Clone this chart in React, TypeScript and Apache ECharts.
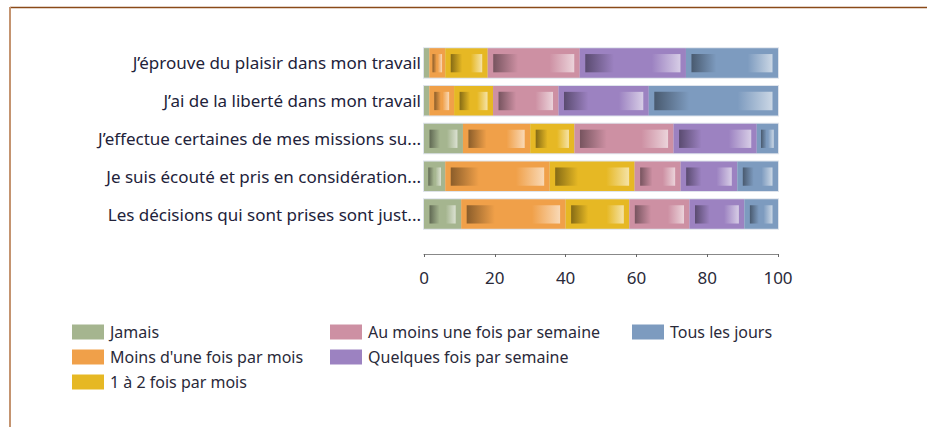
import React, { useEffect, useRef } from "react";
import * as echarts from "echarts";

const categories = [
  "J’éprouve du plaisir dans mon travail",
  "J’ai de la liberté dans mon travail",
  "J’effectue certaines de mes missions su...",
  "Je suis écouté et pris en considération...",
  "Les décisions qui sont prises sont just...",
];

const seriesNames = [
  "Jamais",
  "Moins d'une fois par mois",
  "1 à 2 fois par mois",
  "Au moins une fois par semaine",
  "Quelques fois par semaine",
  "Tous les jours",
];

const colors = ["#a5b58f", "#f0a049", "#e6b824", "#cd90a3", "#9c82c1", "#7d9bbf"];

const jamais = [1.5, 1.5, 11, 6, 10.5];
const moinsUneFois = [4.5, 7, 19, 29.5, 29.5];
const unADeux = [12, 11, 12.5, 24, 18];
const auMoinsUne = [26, 18.5, 28, 13, 17];
const quelquesFois = [30, 25.5, 23.5, 16, 15.5];
const tousLesJours = [26, 36.5, 6, 11.5, 9.5];

const seriesValues = [jamais, moinsUneFois, unADeux, auMoinsUne, quelquesFois, tousLesJours];

const xMin = 0;
const xMax = 100;
const xInterval = 20;

function mix(hex: string, target: number, t: number): string {
  const n = parseInt(hex.slice(1), 16);
  const r = (n >> 16) & 255, g = (n >> 8) & 255, b = n & 255;
  const f = (c: number) => Math.round(c + (target - c) * t);
  return `rgb(${f(r)},${f(g)},${f(b)})`;
}

function makeRender(color: string) {
  const dark = mix(color, 0, 0.42);
  const light = mix(color, 255, 0.6);
  return (params: any, api: any) => {
    const s = api.value(0), e = api.value(1), c = api.value(2);
    const p0 = api.coord([s, c]);
    const p1 = api.coord([e, c]);
    const h = api.size([0, 1])[1] * 0.78;
    const x = p0[0], w = p1[0] - p0[0], y = p0[1] - h / 2;
    const children: any[] = [
      { type: "rect", shape: { x, y, width: w, height: h }, style: { fill: color } },
    ];
    if (w > 8) {
      const pad = Math.min(5.5, w * 0.2);
      const iw = w * 0.27;
      const iy = y + h * 0.2;
      const ih = h * 0.62;
      children.push({
        type: "rect",
        shape: { x: x + pad, y: iy, width: iw, height: ih },
        style: {
          fill: new echarts.graphic.LinearGradient(0, 0, 1, 0, [
            { offset: 0, color: dark },
            { offset: 1, color },
          ]),
        },
      });
      children.push({
        type: "rect",
        shape: { x: x + w - pad - iw, y: iy, width: iw, height: ih },
        style: {
          fill: new echarts.graphic.LinearGradient(0, 0, 1, 0, [
            { offset: 0, color },
            { offset: 1, color: light },
          ]),
        },
      });
    }
    return { type: "group", children };
  };
}

function frameRender(params: any, api: any) {
  const s = api.value(0), e = api.value(1), c = api.value(2);
  const p0 = api.coord([s, c]);
  const p1 = api.coord([e, c]);
  const h = api.size([0, 1])[1] * 0.78;
  return {
    type: "rect",
    shape: { x: p0[0] - 1, y: p0[1] - h / 2 - 1, width: p1[0] - p0[0] + 2, height: h + 2 },
    style: { fill: "#dfe4ec" },
  };
}

export default function App() {
  const ref = useRef<HTMLDivElement>(null);
  useEffect(() => {
    if (!ref.current) return;
    const chart = echarts.init(ref.current, null, { renderer: "svg" });
    const starts = categories.map(() => 0);
    const series: any[] = [
      {
        type: "custom",
        name: "_frame",
        silent: true,
        coordinateSystem: "cartesian2d",
        encode: { x: [0, 1], y: 2 },
        data: categories.map((_, ci) => [xMin, seriesValues.reduce((a, v) => a + v[ci], 0), ci]),
        renderItem: frameRender,
        z: 1,
      },
    ];
    seriesValues.forEach((vals, si) => {
      const data = vals.map((v, ci) => {
        const s0 = starts[ci];
        starts[ci] += v;
        return [s0, s0 + v, ci];
      });
      series.push({
        type: "custom",
        name: seriesNames[si],
        coordinateSystem: "cartesian2d",
        encode: { x: [0, 1], y: 2 },
        itemStyle: { color: colors[si] },
        data,
        renderItem: makeRender(colors[si]),
        z: 2,
      });
    });
    const legendBase = {
      orient: "vertical",
      top: 324,
      padding: 0,
      itemWidth: 32,
      itemHeight: 15,
      itemGap: 9,
      icon: "rect",
      selectedMode: false,
      textStyle: { fontFamily: "Noto Sans", fontSize: 16, color: "#2a2a3a", padding: [0, 0, 0, 1] },
    };
    chart.setOption({
      animation: false,
      textStyle: { fontFamily: "Noto Sans" },
      grid: { left: 424, right: 149, top: 44, height: 189, containLabel: false },
      xAxis: {
        type: "value",
        min: xMin,
        max: xMax,
        interval: xInterval,
        offset: 21,
        axisLine: { show: true, lineStyle: { color: "#888", width: 1 } },
        axisTick: { show: true, length: 3, lineStyle: { color: "#666" } },
        splitLine: { show: false },
        axisLabel: { fontFamily: "Noto Sans", fontSize: 17, color: "#2a2a3a", margin: 15 },
      },
      yAxis: {
        type: "category",
        inverse: true,
        data: categories,
        axisLine: { show: false },
        axisTick: { show: false },
        axisLabel: { fontFamily: "Noto Sans", fontSize: 17, color: "#22223a", margin: 3 },
      },
      legend: [
        { ...legendBase, left: 72, data: seriesNames.slice(0, 3) },
        { ...legendBase, left: 330, data: seriesNames.slice(3, 5) },
        { ...legendBase, left: 632, data: seriesNames.slice(5, 6) },
      ],
      graphic: [
        { type: "line", shape: { x1: 10, y1: 7.5, x2: 927, y2: 7.5 }, style: { stroke: "#8a4a18", lineWidth: 1.5 } },
        { type: "line", shape: { x1: 10, y1: 7, x2: 10, y2: 427 }, style: { stroke: "#c49470", lineWidth: 2 } },
      ],
      series,
    });
    return () => chart.dispose();
  }, []);
  return <div ref={ref} style={{ position: "absolute", left: 0, top: 0, width: 927, height: 427 }} />;
}
